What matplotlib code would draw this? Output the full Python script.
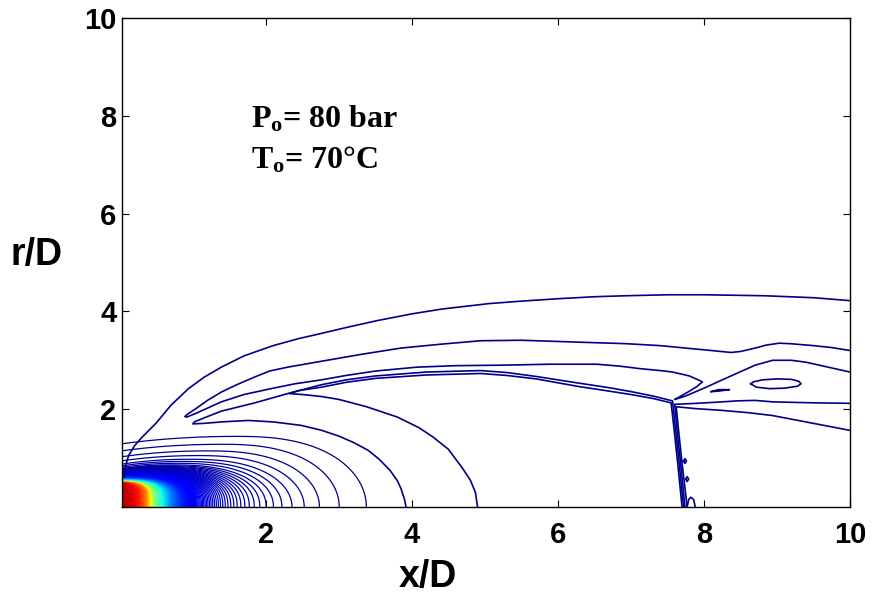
import numpy as np
import matplotlib
matplotlib.use("Agg")
import matplotlib.pyplot as plt
from matplotlib.colors import Normalize

plt.rcParams["font.family"] = ["Liberation Sans", "DejaVu Sans"]
plt.rcParams["font.weight"] = "bold"
plt.rcParams["mathtext.fontset"] = "custom"
plt.rcParams["mathtext.rm"] = "Liberation Serif:bold"
plt.rcParams["mathtext.it"] = "Liberation Serif:bold"
plt.rcParams["mathtext.bf"] = "Liberation Serif:bold"

# ---- near-field contour family (pressure ~ 1/a^2 along the axis) ----
# axis positions x/D where successive contour levels meet r/D = 0
axis_crossings = [4.9, 3.9, 3.32, 2.98, 2.72, 2.52, 2.35, 2.22]
# pressure along the axis inside the potential core (x/D < 1)
core_x = [0.05, 0.25, 0.35, 0.42, 0.47, 0.58, 0.70, 0.85, 1.00]
core_p = [8.10, 7.55, 6.63, 5.31, 4.25, 3.19, 2.13, 1.30, 1.00]
# shape of the near-field contour that meets the axis at a_ref
a_ref = [0.20, 0.50, 0.80, 1.10, 1.50, 2.00, 2.37, 2.74, 3.02, 3.39, 3.60]
peak_r = [0.48, 0.52, 0.58, 0.66, 0.76, 0.86, 0.98, 1.15, 1.29, 1.45, 1.52]
peak_x = [0.00, 0.00, 0.05, 0.20, 0.40, 0.70, 0.95, 1.20, 1.40, 1.60, 1.70]
r_exponent = [6.0, 5.0, 4.0, 3.2, 2.6, 2.2, 2.0, 2.0, 2.0, 2.0, 2.0]

# ---- shock / shear-layer contours (x/D, r/D) ----
outer_x = [0.06, 0.08, 0.12, 0.20, 0.30, 0.40, 0.50, 0.70, 0.94, 1.15, 1.39,
           1.70, 2.10, 2.44, 2.76, 3.10, 3.52, 4.00, 4.42, 5.06, 5.50, 6.01,
           6.50, 6.93, 7.50, 8.00, 8.83, 9.50, 10.0]
outer_r = [0.62, 0.85, 1.05, 1.25, 1.42, 1.57, 1.72, 2.08, 2.42, 2.65, 2.86,
           3.09, 3.30, 3.44, 3.55, 3.67, 3.81, 3.95, 4.05, 4.16, 4.21, 4.26,
           4.30, 4.32, 4.34, 4.34, 4.32, 4.28, 4.22]

lobe_x = [10.0, 9.75, 9.50, 9.18, 9.03, 8.85, 8.70, 8.50, 8.37, 8.10, 7.82,
          7.40, 6.93, 6.30, 5.50, 4.94, 4.40, 3.85, 3.30, 2.76, 2.30, 2.05,
          1.85, 1.60, 1.39, 1.20, 1.05, 0.93, 0.89, 0.92, 1.05, 1.39, 1.70,
          2.07, 2.40, 2.76, 3.10, 3.50, 4.07, 4.60, 5.21, 5.90, 6.53, 6.85,
          7.12, 7.40, 7.57, 7.80, 7.98, 7.90, 7.78, 7.65, 7.60, 7.75, 8.03,
          8.25, 8.49, 8.70, 8.94, 9.20, 9.40, 9.70, 10.0]
lobe_r = [3.20, 3.26, 3.30, 3.34, 3.35, 3.31, 3.25, 3.18, 3.16, 3.20, 3.24,
          3.30, 3.34, 3.37, 3.41, 3.40, 3.33, 3.25, 3.12, 2.98, 2.86, 2.78,
          2.66, 2.50, 2.35, 2.18, 2.02, 1.90, 1.85, 1.84, 1.92, 2.15, 2.30,
          2.42, 2.52, 2.60, 2.69, 2.78, 2.86, 2.89, 2.90, 2.92, 2.92, 2.88,
          2.83, 2.79, 2.76, 2.68, 2.56, 2.46, 2.35, 2.24, 2.20, 2.27, 2.45,
          2.60, 2.76, 2.90, 3.00, 3.00, 2.96, 2.86, 2.76]

barrel1_x = [3.92, 3.90, 3.85, 3.80, 3.70, 3.55, 3.40, 3.20, 3.00, 2.76, 2.48,
             2.10, 1.76, 1.39, 1.15, 1.00, 1.02, 1.15, 1.39, 1.85, 2.30, 2.76,
             3.10, 3.50, 4.20, 4.94, 5.30, 5.70, 6.30, 6.70, 7.00, 7.30, 7.57,
             7.61, 7.66, 7.72]
barrel1_r = [0.00, 0.15, 0.38, 0.54, 0.75, 0.98, 1.16, 1.32, 1.45, 1.57, 1.67,
             1.74, 1.77, 1.74, 1.71, 1.70, 1.74, 1.82, 1.96, 2.13, 2.32, 2.50,
             2.60, 2.68, 2.76, 2.79, 2.75, 2.67, 2.53, 2.44, 2.36, 2.27, 2.17,
             1.60, 0.90, 0.00]

barrel2_x = [4.90, 4.87, 4.80, 4.69, 4.50, 4.29, 4.10, 3.80, 3.38, 3.00, 2.76,
             2.50, 2.32, 2.45, 2.76, 3.10, 3.50, 4.20, 4.94, 5.30, 5.70, 6.30,
             6.70, 7.00, 7.30, 7.55, 7.59, 7.64, 7.70]
barrel2_r = [0.00, 0.30, 0.55, 0.80, 1.18, 1.43, 1.62, 1.84, 2.05, 2.20, 2.26,
             2.30, 2.32, 2.38, 2.45, 2.55, 2.63, 2.70, 2.73, 2.69, 2.62, 2.46,
             2.37, 2.30, 2.22, 2.13, 1.60, 0.90, 0.00]

slip_x = [10.0, 9.50, 8.94, 8.70, 8.45, 8.25, 7.90, 7.60, 7.63, 7.68, 7.74]
slip_r = [2.12, 2.13, 2.15, 2.18, 2.17, 2.15, 2.12, 2.10, 1.60, 0.90, 0.00]

reflect_x = [9.99, 9.50, 8.94, 8.60, 8.21, 7.90, 7.62, 7.65, 7.70, 7.77]
reflect_r = [1.57, 1.71, 1.87, 1.93, 1.98, 2.01, 2.05, 1.60, 0.90, 0.00]

island_x = [8.64, 8.68, 8.80, 9.00, 9.20, 9.30, 9.33, 9.28, 9.10, 8.90, 8.72,
            8.64]
island_r = [2.52, 2.56, 2.60, 2.62, 2.61, 2.57, 2.52, 2.47, 2.43, 2.42, 2.45,
            2.52]

sliver_x = [8.10, 8.20, 8.35, 8.20, 8.10]
sliver_r = [2.36, 2.40, 2.40, 2.37, 2.36]

blob1_x = [7.72, 7.74, 7.76, 7.74, 7.72]
blob1_r = [0.94, 0.99, 0.94, 0.89, 0.94]
blob2_x = [7.75, 7.77, 7.79, 7.77, 7.75]
blob2_r = [0.57, 0.62, 0.57, 0.52, 0.57]
arch_x = [7.77, 7.79, 7.82, 7.86, 7.88]
arch_r = [0.00, 0.15, 0.20, 0.15, 0.00]

# ---- build the near-field scalar field ----
xg = np.linspace(0.0, 4.2, 841)
rg = np.linspace(0.0, 2.2, 551)
X, R = np.meshgrid(xg, rg)

a_f = np.linspace(0.05, 3.6, 360)
Bf = np.interp(a_f, a_ref, peak_r)
Cf = np.interp(a_f, a_ref, peak_x)
Qf = np.interp(a_f, a_ref, r_exponent)
px = 2.5

# F = axis position of the contour passing through each grid point
F = np.full(X.shape, np.inf)
g_prev = None
for i, a in enumerate(a_f):
    c = Cf[i]
    lf = max(2.2 * c, 1e-3)
    dx = X - c
    gx = np.where(dx >= 0, (np.clip(dx, 0, None) / (a - c)) ** px,
                  (np.clip(-dx, 0, None) / lf) ** 2)
    g = gx + (R / Bf[i]) ** Qf[i]
    if g_prev is None:
        F[g <= 1] = a
    else:
        new = np.isinf(F) & (g <= 1)
        t = (g_prev[new] - 1) / (g_prev[new] - g[new])
        F[new] = a_f[i - 1] + t * (a - a_f[i - 1])
    g_prev = g

with np.errstate(divide="ignore"):
    P = np.where(np.isinf(F), 0.0,
                 np.where(F < 1.0, np.interp(F, core_x, core_p), 1.0 / F ** 2))

lv = 1.0 / np.array(axis_crossings) ** 2
step = np.mean(np.diff(lv))
levels = lv[0] + step * np.arange(2, int((8.2 - lv[0]) / step) + 1)
fill_levels = levels[levels >= 0.9]

cmap = plt.get_cmap("jet").copy()
cmap.set_over(cmap(0.93))
norm = Normalize(0.0, 8.5)
line_color = cmap(0.01)

fig = plt.figure(figsize=(8.72, 5.99), dpi=100)
ax = fig.add_axes([122 / 872, 92 / 599, 728 / 872, 489 / 599])

ax.contourf(X, R, P, levels=fill_levels, cmap=cmap, norm=norm,
            extend="max", zorder=1)
ax.contour(X, R, P, levels=levels, cmap=cmap, norm=norm,
           linewidths=0.9, zorder=2)

for xs, rs in [(outer_x, outer_r), (lobe_x, lobe_r), (barrel1_x, barrel1_r),
               (barrel2_x, barrel2_r), (slip_x, slip_r),
               (reflect_x, reflect_r), (island_x, island_r),
               (sliver_x, sliver_r), (blob1_x, blob1_r), (blob2_x, blob2_r),
               (arch_x, arch_r)]:
    ax.plot(xs, rs, color=line_color, lw=1.2, zorder=3)

ax.set_xlim(0.03, 10)
ax.set_ylim(0, 10)
ax.set_xticks([2, 4, 6, 8, 10])
ax.set_yticks([2, 4, 6, 8, 10])
ax.tick_params(direction="in", length=5, width=0.8, top=True, right=True,
               labelsize=21)
ax.tick_params(axis="x", pad=10)
ax.tick_params(axis="y", pad=4)
for s in ax.spines.values():
    s.set_linewidth(1.0)

ax.set_xlabel("x/D", fontsize=27, fontweight="bold", va="center")
ax.xaxis.set_label_coords(0.42, -0.143)
ax.set_ylabel("r/D", fontsize=27, fontweight="bold", rotation=0,
              va="center", ha="center")
ax.yaxis.set_label_coords(-0.117, 0.515)

ax.text(1.79, 7.77, r"P$_{\rm o}$= 80 bar", fontsize=23,
        family="Liberation Serif", weight="bold", va="baseline")
ax.text(1.79, 6.93, r"T$_{\rm o}$= 70°C", fontsize=23,
        family="Liberation Serif", weight="bold", va="baseline")

fig.savefig("out.png", dpi=100)
